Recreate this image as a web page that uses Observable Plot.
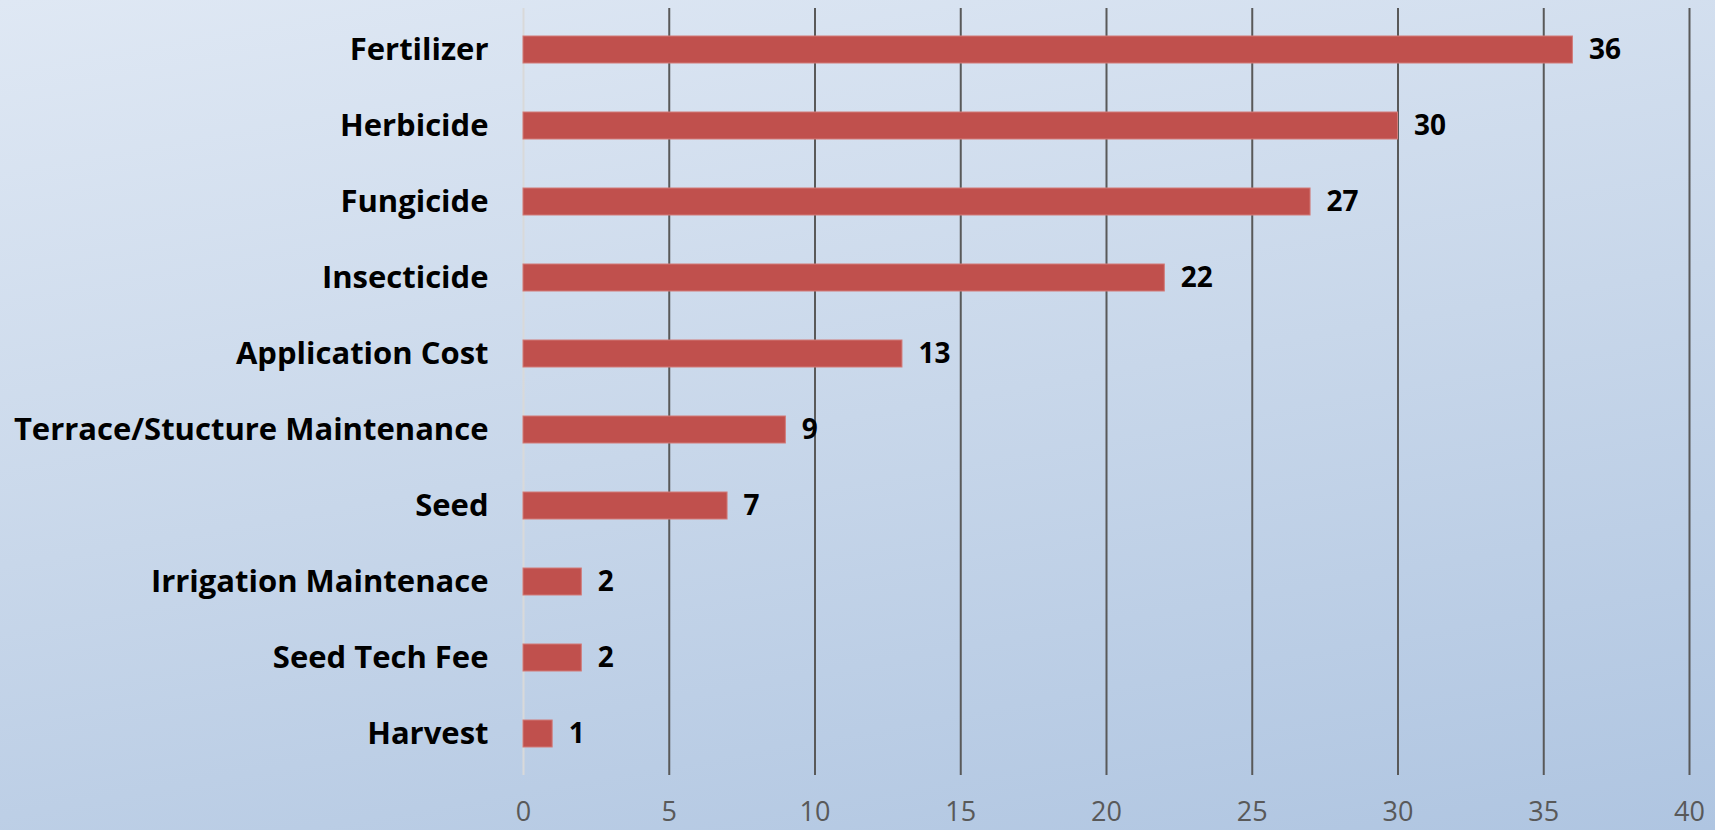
<!DOCTYPE html>
<html>
<head>
<meta charset="utf-8">
<script src="https://cdn.jsdelivr.net/npm/d3@7"></script>
<script src="https://cdn.jsdelivr.net/npm/@observablehq/plot@0.6"></script>
<style>
  html, body { margin: 0; padding: 0; }
  #chart {
    width: 1715px; height: 830px;
    background: linear-gradient(170deg, #dfe8f4 0%, #c8d7ea 50%, #afc5e1 100%);
  }
  #chart svg { display: block; }
</style>
</head>
<body>
<div id="chart"></div>
<script>
const categories = ["Fertilizer", "Herbicide", "Fungicide", "Insecticide", "Application Cost",
  "Terrace/Stucture Maintenance", "Seed", "Irrigation Maintenace", "Seed Tech Fee", "Harvest"];
const values = [36, 30, 27, 22, 13, 9, 7, 2, 2, 1];
const xTicks = [0, 5, 10, 15, 20, 25, 30, 35, 40];

const data = categories.map((c, i) => ({category: c, value: values[i]}));

const chart = Plot.plot({
  width: 1715,
  height: 830,
  marginLeft: 523,
  marginRight: 26,
  marginTop: 8,
  marginBottom: 55,
  style: {background: "transparent", fontFamily: "'Open Sans', Lato, sans-serif"},
  x: {domain: [0, 40]},
  y: {domain: categories, paddingInner: 0.64, paddingOuter: 0.32},
  marks: [
    Plot.gridX(xTicks.filter(d => d !== 0), {stroke: "#595959", strokeOpacity: 1, strokeWidth: 2}),
    Plot.ruleX([0], {stroke: "#d9d9d9", strokeWidth: 2}),
    Plot.barX(data, {x: "value", y: "category", fill: "#c0504d", stroke: "#d27a78", strokeWidth: 1}),
    Plot.text(data, {x: "value", y: "category", text: d => String(d.value), textAnchor: "start", dx: 16,
      fontSize: 28, fontWeight: "bold", fill: "black"}),
    Plot.axisY({tickSize: 0, tickPadding: 35, fontSize: 31, fontWeight: "bold", fill: "black", label: null}),
    Plot.axisX({ticks: xTicks, tickSize: 0, tickPadding: 26, fontSize: 27, fill: "#595959", label: null, tickFormat: d => String(d)})
  ]
});
document.getElementById("chart").appendChild(chart);
</script>
</body>
</html>
